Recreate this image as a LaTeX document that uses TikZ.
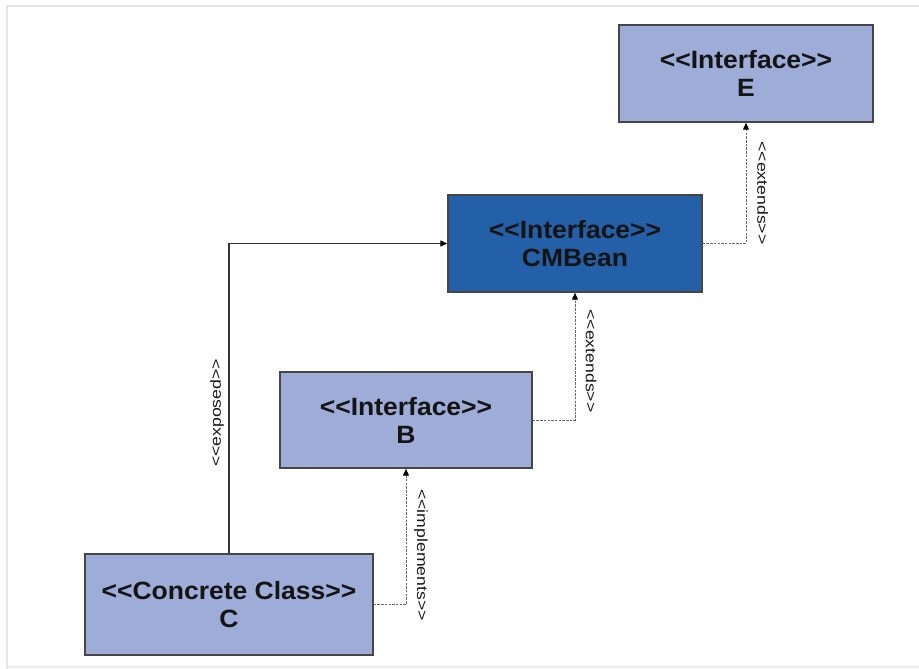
\documentclass[tikz,border=0pt]{standalone}
\usepackage{fontspec}
\setmainfont{Liberation Sans}
\newfontfamily\boxfont[FakeStretch=1.06]{Liberation Sans}
\newfontfamily\labfont[FakeStretch=1.2]{Liberation Sans}
\usetikzlibrary{arrows.meta}
\definecolor{ifacefill}{RGB}{158,172,216}
\definecolor{beanfill}{RGB}{36,96,168}
\definecolor{boxline}{RGB}{70,70,70}
\definecolor{frameline}{RGB}{228,228,228}
\tikzset{
  umlbox/.style={draw=boxline, line width=1.4pt, fill=ifacefill, rectangle,
    inner sep=0pt, align=center, text=black!92,
    font=\boxfont\bfseries\fontsize{25}{28}\selectfont},
  beanbox/.style={umlbox, fill=beanfill},
  tip/.style={-{Triangle[length=7pt,width=6pt,black]}},
  uses/.style={tip, draw=black!80, line width=1.3pt},
  realizes/.style={tip, draw=black!60, line width=1pt, dash pattern=on 2.5pt off 1.2pt},
  stereo/.style={font=\labfont\fontsize{14.7}{16}\selectfont, inner sep=0pt, text=black!90},
}
\begin{document}
\begin{tikzpicture}[x=1pt,y=-1pt]
  \useasboundingbox (0,0) rectangle (919,669);
  \fill[white] (0,0) rectangle (919,669);
  % soft page frame
  \draw[frameline, line width=2pt] (919,6) -- (7,6) -- (7,669);
  \draw[frameline!70!white, line width=1.5pt] (7,667) -- (919,667);

  % classes and interfaces
  \node[umlbox, minimum width=254pt, minimum height=97pt] (E) at (746,73.5)
    {<<Interface>>\\E};
  \node[beanbox, minimum width=254pt, minimum height=97pt] (CM) at (575,243.5)
    {<<Interface>>\\CMBean};
  \node[umlbox, minimum width=252pt, minimum height=96pt] (B) at (406,420)
    {<<Interface>>\\B};
  \node[umlbox, minimum width=288pt, minimum height=101pt] (C) at (229,604.5)
    {<<Concrete Class>>\\C};

  % relations
  \draw[uses] (C.north) |- (CM.west);
  \draw[realizes] (C.east) -| (B.south);
  \draw[realizes] (B.east) -| (CM.south);
  \draw[realizes] (CM.east) -| (E.south);

  % stereotype labels
  \node[stereo, rotate=90] (lexp) at (217,413) {<<exposed>>};
  \node[stereo, rotate=-90] (limp) at (421,555) {<<implements>>};
  \node[stereo, rotate=-90] (lext1) at (591,361) {<<extends>>};
  \node[stereo, rotate=-90] (lext2) at (762.5,193) {<<extends>>};
\end{tikzpicture}
\end{document}
